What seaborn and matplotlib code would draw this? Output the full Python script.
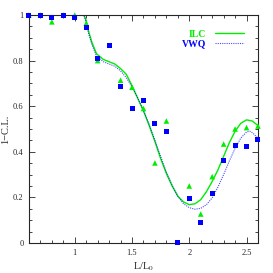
import matplotlib
matplotlib.use("Agg")
import matplotlib.pyplot as plt
from matplotlib.ticker import MultipleLocator, FuncFormatter
from matplotlib.lines import Line2D
import seaborn as sns
import pandas as pd

# ---- data ----
vwq_pts_x = [0.6, 0.7, 0.8, 0.9, 1.0, 1.1, 1.2, 1.3, 1.4, 1.5, 1.6, 1.7, 1.8, 1.9, 2.0, 2.1, 2.2, 2.3, 2.4, 2.5, 2.6]
vwq_pts_y = [1.0, 1.0, 0.99, 1.0, 0.987, 0.946, 0.808, 0.868, 0.687, 0.589, 0.623, 0.525, 0.49, 0.0, 0.196, 0.091, 0.215, 0.361, 0.427, 0.422, 0.456]

ilc_pts_x = [0.6, 0.7, 0.8, 0.9, 1.0, 1.1, 1.2, 1.4, 1.5, 1.6, 1.7, 1.8, 2.0, 2.1, 2.2, 2.3, 2.4, 2.5, 2.6]
ilc_pts_y = [1.0, 1.0, 0.97, 1.0, 1.0, 0.964, 0.80, 0.714, 0.683, 0.59, 0.351, 0.535, 0.25, 0.127, 0.291, 0.434, 0.5, 0.506, 0.513]

ilc_curve_x = [0.6, 0.8, 1.0, 1.08, 1.10, 1.12, 1.15, 1.19, 1.25, 1.30, 1.35, 1.40, 1.45, 1.50, 1.55, 1.60, 1.65, 1.70, 1.75, 1.80, 1.85, 1.90, 1.95, 2.00, 2.05, 2.10, 2.15, 2.20, 2.25, 2.30, 2.35, 2.40, 2.45, 2.50, 2.55, 2.60]
ilc_curve_y = [1.0, 1.0, 1.0, 1.0, 0.975, 0.93, 0.88, 0.83, 0.805, 0.795, 0.785, 0.765, 0.74, 0.69, 0.635, 0.58, 0.515, 0.445, 0.37, 0.305, 0.25, 0.205, 0.18, 0.168, 0.172, 0.19, 0.225, 0.27, 0.32, 0.38, 0.44, 0.49, 0.525, 0.54, 0.535, 0.515]

vwq_curve_x = [0.6, 0.8, 1.0, 1.08, 1.10, 1.12, 1.15, 1.19, 1.25, 1.30, 1.35, 1.40, 1.45, 1.50, 1.55, 1.60, 1.65, 1.70, 1.75, 1.80, 1.85, 1.90, 1.95, 2.00, 2.05, 2.10, 2.15, 2.20, 2.25, 2.30, 2.35, 2.40, 2.45, 2.50, 2.53, 2.56, 2.60]
vwq_curve_y = [1.0, 1.0, 1.0, 1.0, 0.97, 0.92, 0.87, 0.82, 0.795, 0.785, 0.775, 0.755, 0.725, 0.685, 0.635, 0.58, 0.52, 0.45, 0.38, 0.31, 0.255, 0.205, 0.172, 0.155, 0.148, 0.152, 0.168, 0.198, 0.245, 0.30, 0.36, 0.415, 0.46, 0.487, 0.49, 0.48, 0.459]

series_labels = ["ILC", "VWQ"]
x_ticks = [1, 1.5, 2, 2.5]
y_ticks = [0, 0.2, 0.4, 0.6, 0.8, 1]

GREEN = "#00ee00"
BLUE = "#0000ff"

sns.set_style("ticks")
plt.rcParams["font.family"] = ["Liberation Serif", "DejaVu Serif"]
plt.rcParams["mathtext.fontset"] = "stix"

fig = plt.figure(figsize=(2.73, 2.73), dpi=100)
ax = fig.add_axes([0.106, 0.11, 0.839, 0.835])

sns.lineplot(x=ilc_curve_x, y=ilc_curve_y, ax=ax, color=GREEN, lw=1.0, sort=False)
sns.lineplot(x=vwq_curve_x, y=vwq_curve_y, ax=ax, color=BLUE, lw=0.8, linestyle=(0, (1, 1)), sort=False, alpha=0.7)

sns.scatterplot(x=ilc_pts_x, y=ilc_pts_y, ax=ax, marker="^", s=16, color=GREEN, edgecolor="none", linewidth=0, clip_on=False, zorder=3)
sns.scatterplot(x=vwq_pts_x, y=vwq_pts_y, ax=ax, marker="s", s=13, color=BLUE, edgecolor="none", linewidth=0, clip_on=False, zorder=4)

ax.set_xlim(0.6, 2.6)
ax.set_ylim(0, 1)
ax.set_xticks(x_ticks)
ax.set_yticks(y_ticks)
ax.xaxis.set_minor_locator(MultipleLocator(0.1))
ax.yaxis.set_minor_locator(MultipleLocator(0.05))
ax.yaxis.set_major_formatter(FuncFormatter(lambda v, p: ("%g" % v)))
ax.xaxis.set_major_formatter(FuncFormatter(lambda v, p: ("%g" % v)))
ax.tick_params(which="both", direction="in", top=True, right=True, labelsize=6, width=0.6, pad=4)
ax.tick_params(which="major", length=4)
ax.tick_params(which="minor", length=2)
for sp in ax.spines.values():
    sp.set_linewidth(0.8)
    sp.set_visible(True)

ax.set_xlabel("L/L$_0$", fontsize=7.5, labelpad=3)
ax.set_ylabel("1\u2212C.L.", fontsize=7.5, labelpad=2)

handles = [Line2D([], [], color=GREEN, lw=1.0),
           Line2D([], [], color=BLUE, lw=0.8, linestyle=(0, (1, 1)), alpha=0.7)]
leg = ax.legend(handles, series_labels, loc="upper right", bbox_to_anchor=(0.97, 0.965),
                frameon=False, markerfirst=False, fontsize=7, handlelength=3.0,
                handletextpad=0.9, labelspacing=0.05, borderaxespad=0.3)
for txt, c in zip(leg.get_texts(), [GREEN, BLUE]):
    txt.set_color(c)
    txt.set_fontweight("bold")

fig.savefig("out.png", dpi=100)
